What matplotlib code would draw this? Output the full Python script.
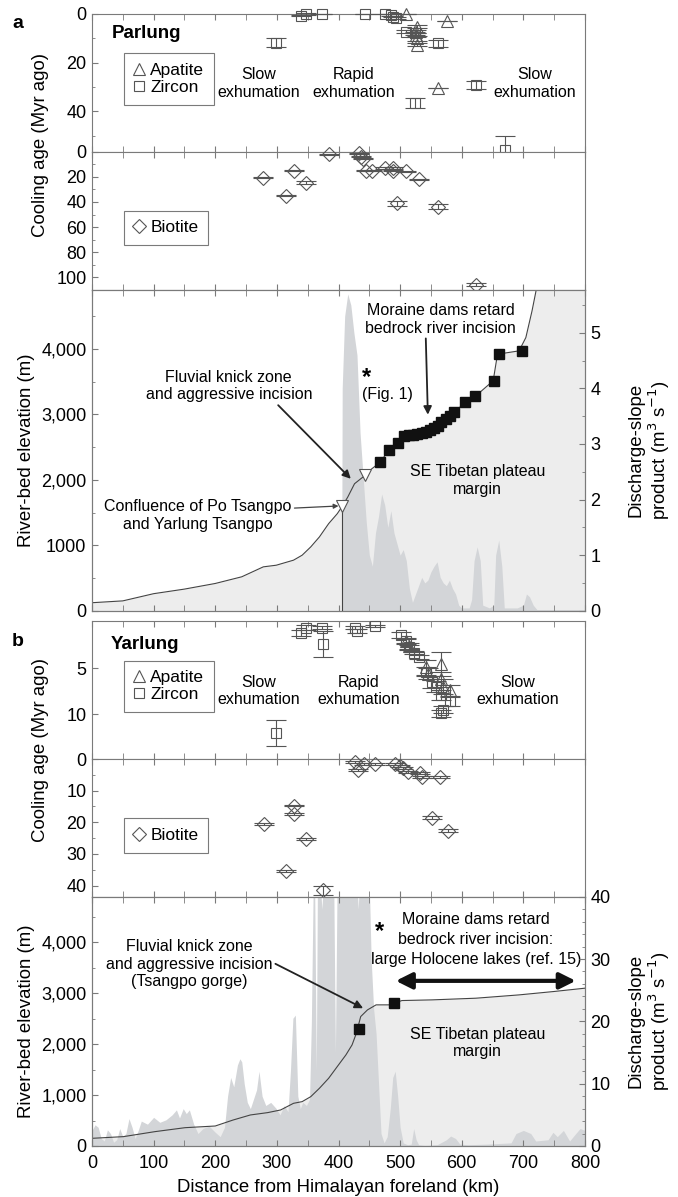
import matplotlib
matplotlib.use("Agg")
import matplotlib.pyplot as plt
from matplotlib.lines import Line2D
from matplotlib.ticker import MultipleLocator, FixedLocator

plt.rcParams['font.family'] = ['Liberation Sans Narrow', 'Liberation Sans', 'DejaVu Sans']
plt.rcParams['mathtext.fontset'] = 'custom'
plt.rcParams['mathtext.rm'] = 'Liberation Sans Narrow'

# ---------------- Parlung (a) ----------------
ap_a_km = [510, 576, 528, 526, 526, 528, 527, 561]
ap_a_age = [0.0, 2.7, 5.2, 7.3, 8.6, 10.0, 12.7, 30.5]
ap_a_err = [0.0, 0.0, 0.5, 0.6, 0.8, 0.9, 0.6, 0.0]

zr_a_km = [299, 339, 348, 374, 443, 475, 486, 489, 493, 510, 524, 561, 524, 623, 670]
zr_a_age = [11.8, 0.7, 0.0, 0.0, 0.0, 0.0, 0.5, 1.1, 1.8, 7.3, 7.9, 12.0, 36.4, 29.0, 55.6]
zr_a_err = [1.8, 0.3, 0.3, 0.2, 0.2, 0.2, 0.3, 0.3, 0.4, 0.7, 0.6, 1.5, 2.0, 1.7, 5.5]

bt_a_km = [278, 315, 327, 347, 384, 434, 437, 440, 444, 455, 475, 488, 489, 510, 530, 495, 561, 623]
bt_a_age = [20.8, 35.0, 15.0, 24.7, 2.0, 1.3, 3.9, 5.7, 15.0, 15.0, 13.0, 13.0, 15.0, 15.6, 22.0, 41.0, 43.6, 106.0]
bt_a_err = [0.3, 0.3, 0.3, 1.0, 0.3, 0.3, 0.5, 0.5, 0.3, 0.3, 0.5, 0.5, 0.5, 0.5, 0.3, 1.8, 2.0, 1.2]

elev_a_km = [0, 50, 100, 150, 200, 243, 278, 299, 327, 341, 355, 369, 384, 398, 406, 415, 426, 436,
             443, 454, 468, 482, 496, 510, 525, 542, 559, 574, 588, 605, 623, 651, 658, 693, 704,
             714, 721, 730, 800]
elev_a_m = [122, 150, 260, 330, 416, 518, 670, 695, 772, 848, 975, 1127, 1330, 1482, 1594, 1736, 1940,
            2015, 2066, 2168, 2270, 2462, 2558, 2675, 2700, 2750, 2827, 2929, 3030, 3183, 3284, 3513,
            3919, 3970, 4173, 4579, 4909, 5400, 7000]

sq_a_km = [468, 482, 496, 507, 514, 521, 528, 535, 542, 549, 555, 561, 567, 574, 581, 588, 605, 621,
           653, 660, 698]
sq_a_m = [2269, 2462, 2558, 2675, 2685, 2690, 2700, 2716, 2736, 2761, 2792, 2827, 2878, 2929, 2980,
          3041, 3183, 3284, 3503, 3919, 3970]

tri_a_km = [406, 443]
tri_a_m = [1594, 2066]

dis_a_km = [405, 406, 410, 415, 420, 425, 430, 435, 440, 445, 450, 455, 460, 465, 470, 475, 480, 485,
            490, 495, 500, 505, 510, 515, 520, 525, 530, 535, 540, 545, 550, 555, 560, 565, 570, 575,
            580, 585, 590, 595, 600, 612, 616, 620, 625, 630, 634, 645, 652, 655, 660, 665, 669, 690,
            700, 705, 710, 716, 722, 800]
dis_a = [0, 4.0, 5.3, 5.7, 5.5, 5.0, 4.6, 3.2, 2.4, 1.6, 1.0, 0.8, 1.4, 1.7, 2.1, 1.9, 1.5, 1.8, 1.4,
         1.2, 1.0, 1.1, 0.9, 0.4, 0.15, 0.3, 0.45, 0.6, 0.5, 0.55, 0.7, 0.8, 0.88, 0.6, 0.5, 0.45,
         0.55, 0.4, 0.3, 0.1, 0.05, 0.05, 0.2, 0.9, 1.15, 0.9, 0.1, 0.05, 0.1, 1.0, 1.27, 0.8, 0.05,
         0.05, 0.1, 0.3, 0.25, 0.1, 0.02, 0.02]

# ---------------- Yarlung (b) ----------------
ap_b_km = [510, 514, 542, 545, 567, 566, 570, 581]
ap_b_age = [2.0, 2.6, 4.9, 5.6, 4.5, 6.2, 7.0, 7.4]
ap_b_err = [0.3, 0.3, 0.8, 0.6, 1.3, 0.8, 0.8, 0.6]

zr_b_km = [339, 348, 374, 375, 427, 430, 460, 502, 510, 514, 522, 531, 542, 552, 559, 567, 570, 567,
           581, 298]
zr_b_age = [1.2, 0.6, 0.6, 2.4, 0.6, 1.0, 0.4, 1.4, 2.1, 2.75, 3.3, 3.8, 5.4, 6.5, 7.0, 7.9, 9.5, 9.9,
            8.6, 12.0]
zr_b_err = [0.3, 0.3, 0.2, 1.4, 0.2, 0.2, 0.1, 0.3, 0.3, 0.3, 0.2, 0.2, 0.5, 0.6, 0.6, 0.5, 0.4, 0.4,
            0.5, 1.4]

bt_b_km = [279, 327, 327, 347, 315, 427, 431, 442, 460, 491, 500, 504, 512, 533, 535, 565, 552, 578, 375]
bt_b_age = [20.6, 14.7, 17.3, 25.3, 35.4, 1.05, 3.5, 1.6, 1.6, 1.6, 2.2, 2.9, 4.0, 4.5, 5.6, 5.8, 18.5,
            22.6, 41.5]
bt_b_err = [0.3, 0.3, 0.3, 0.4, 0.4, 0.3, 0.3, 0.3, 0.2, 0.3, 0.3, 0.3, 0.3, 0.3, 0.3, 0.3, 0.6, 0.6, 1.5]

elev_b_km = [0, 51, 102, 151, 200, 229, 257, 285, 306, 327, 341, 355, 369, 384, 398, 412, 422, 429,
             436, 447, 461, 482, 503, 552, 623, 693, 749, 800]
elev_b_m = [151, 184, 282, 360, 393, 511, 610, 656, 708, 839, 872, 970, 1134, 1331, 1561, 1790, 1987,
            2216, 2544, 2675, 2774, 2774, 2859, 2872, 2905, 2970, 3036, 3102]

sq_b_km = [433, 490]
sq_b_m = [2295, 2820]

dis_b_km = [0, 5, 10, 15, 20, 25, 30, 35, 40, 45, 50, 55, 60, 65, 70, 75, 80, 90, 100, 110, 120, 130,
            137, 142, 148, 153, 158, 165, 172, 180, 190, 200, 208, 215, 220, 225, 230, 236, 240, 243,
            247, 252, 257, 262, 267, 271, 276, 282, 290, 299, 305, 312, 318, 322, 326, 330, 334, 338,
            342, 348, 353, 356, 359, 361, 364, 366, 369, 373, 377, 381, 385, 389, 392, 395, 398, 402,
            407, 412, 418, 424, 429, 432, 435, 438, 442, 446, 450, 453, 457, 461, 465, 469, 474, 479,
            484, 488, 492, 496, 500, 505, 512, 518, 522, 526, 530, 540, 560, 575, 582, 590, 597, 610,
            640, 680, 688, 700, 712, 720, 740, 748, 755, 765, 775, 785, 792, 800]
dis_b = [2.5, 3.4, 3.0, 1.2, 0.8, 2.6, 2.0, 0.6, 1.0, 2.8, 1.5, 2.0, 4.4, 3.0, 1.2, 2.5, 4.0, 3.5, 4.6,
         3.8, 4.2, 5.0, 5.8, 4.5, 6.0, 5.2, 5.8, 3.5, 2.0, 2.8, 3.2, 2.2, 1.5, 3.0, 8.0, 11.0, 9.5,
         13.0, 14.0, 13.5, 10.0, 7.0, 6.0, 7.5, 9.0, 12.0, 8.0, 6.5, 7.0, 6.0, 5.0, 6.5, 5.5, 12.0,
         20.5, 21.0, 8.0, 6.0, 7.0, 6.5, 7.5, 20, 42, 45, 12, 45, 45, 38, 45, 45, 40, 45, 45, 15, 45,
         45, 45, 45, 45, 45, 45, 38, 45, 45, 45, 45, 42, 30, 22, 18, 10, 2, 0.5, 1.5, 6, 11, 12, 8, 3,
         0.5, 0.2, 0.3, 2.8, 1.0, 0.2, 0.1, 0.2, 1.0, 1.6, 1.2, 0.3, 0.2, 0.3, 0.5, 2.0, 2.5, 2.0,
         0.8, 1.0, 2.2, 1.5, 2.5, 0.8, 2.0, 2.8, 2.5]

elev_ticks = [0, 1000, 2000, 3000, 4000]
elev_labels_a = ['0', '1000', '2,000', '3,000', '4,000']
elev_labels_b = ['0', '1,000', '2,000', '3,000', '4,000']

moraine_b_lines = ['Moraine dams retard', 'bedrock river incision:', 'large Holocene lakes (ref. 15)']

EDGE = '#7a7a7a'
MK = '#555555'
LINE = '#444444'
LIGHT = '#ededed'
MID = '#d3d5d8'
TFS = 12      # tick labels
AFS = 11.5    # annotations
LFS = 12.5    # legends
XFS = 13.4    # axis labels

W, H = 678, 1197
fig = plt.figure(figsize=(W / 100, H / 100), dpi=100)
L, R = 92 / W, 585 / W


def add_ax(top, bottom):
    return fig.add_axes([L, 1 - bottom / H, R - L, (bottom - top) / H])


def style(ax, labels=False):
    ax.set_xlim(0, 800)
    ax.xaxis.set_major_locator(MultipleLocator(100))
    ax.xaxis.set_minor_locator(MultipleLocator(50))
    ax.tick_params(axis='x', which='both', direction='in', top=True, bottom=True, length=4,
                   color=EDGE, labelbottom=labels, labelsize=TFS + 1, pad=6.5)
    ax.tick_params(axis='y', which='both', direction='in', length=4, color=EDGE,
                   labelsize=TFS + 1, pad=4)
    ax.tick_params(axis='y', which='minor', length=2.5)
    for s in ax.spines.values():
        s.set_color(EDGE)
        s.set_linewidth(0.8)


def ages(ax, x, y, e, marker, ms):
    c = ax.errorbar(x, y, yerr=e, fmt=marker, ms=ms, mfc='none', mec=MK, mew=0.8, ecolor=MK,
                    elinewidth=0.8, capsize=7.5, capthick=0.8, zorder=3)
    for art in c.get_children():
        art.set_clip_on(False)


def legend(ax, items, x0, y0):
    handles = [Line2D([], [], ls='none', marker=m, ms=ms, mfc='none', mec=MK, mew=0.8, label=lab)
               for m, ms, lab in items]
    lg = ax.legend(handles=handles, loc='upper left', bbox_to_anchor=(x0, y0), frameon=True,
                   fancybox=False, edgecolor=EDGE, framealpha=1, handlelength=0.7,
                   handletextpad=0.3, borderpad=0.55, labelspacing=0.1, fontsize=LFS,
                   borderaxespad=0)
    lg.get_frame().set_linewidth(0.8)


def exhumation(ax, y, xs):
    ax.text(xs[0], y, 'Slow\nexhumation', ha='center', va='center', fontsize=AFS)
    ax.text(xs[1], y, 'Rapid\nexhumation', ha='center', va='center', fontsize=AFS)
    ax.text(xs[2], y, 'Slow\nexhumation', ha='center', va='center', fontsize=AFS)


def elevation(ax, ekm, em, dkm, dv, dmax, sqkm, sqm, labels):
    axr = ax.twinx()
    ax.fill_between(ekm, 0, em, color=LIGHT, lw=0, zorder=0.5)
    ax.fill_between(dkm, 0, dv, color=MID, lw=0, zorder=0.8, transform=axr.transData)
    ax.plot(ekm, em, color=LINE, lw=0.8, zorder=3)
    ax.plot(sqkm, sqm, 's', ms=7, color='#111111', zorder=4)
    ax.set_ylim(0, 4900)
    ax.yaxis.set_major_locator(FixedLocator(elev_ticks))
    ax.set_yticklabels(labels)
    ax.yaxis.set_minor_locator(MultipleLocator(500))
    axr.set_ylim(0, dmax)
    style(axr)
    return axr


# ---------- panel a ----------
a1 = add_ax(14, 151.7)
a2 = add_ax(151.7, 290)
a3 = add_ax(290, 610.7)

style(a1)
a1.set_ylim(56.5, 0)
a1.yaxis.set_major_locator(FixedLocator([0, 20, 40]))
a1.yaxis.set_minor_locator(MultipleLocator(10))
ages(a1, zr_a_km, zr_a_age, zr_a_err, 's', 6.5)
ages(a1, ap_a_km, ap_a_age, ap_a_err, '^', 8)
legend(a1, [('^', 8, 'Apatite'), ('s', 6.5, 'Zircon')], 0.064, 0.714)
exhumation(a1, 28.5, [270, 424, 719])
a1.text(32, 8, 'Parlung', fontsize=13.5, fontweight='bold', va='center')

style(a2)
a2.set_ylim(110, 0)
a2.yaxis.set_major_locator(MultipleLocator(20))
a2.yaxis.set_minor_locator(MultipleLocator(10))
ages(a2, bt_a_km, bt_a_age, bt_a_err, 'D', 7.5)
legend(a2, [('D', 7.5, 'Biotite')], 0.064, 0.573)

style(a3)
a3r = elevation(a3, elev_a_km, elev_a_m, dis_a_km, dis_a, 5.77, sq_a_km, sq_a_m, elev_labels_a)
a3r.yaxis.set_major_locator(MultipleLocator(1))
a3r.yaxis.set_minor_locator(MultipleLocator(0.5))
a3.vlines(tri_a_km[0], 0, tri_a_m[0], color=LINE, lw=0.8, zorder=3)
a3.plot(tri_a_km, tri_a_m, 'v', ms=8, mfc='white', mec=MK, mew=0.8, zorder=4)
arrow = dict(arrowstyle='-|>', color='#222222', lw=1.3, mutation_scale=12, shrinkA=0, shrinkB=0)
a3.annotate('Fluvial knick zone\nand aggressive incision', xy=(420, 2015), xytext=(222, 3430),
            ha='center', va='center', fontsize=AFS,
            arrowprops=dict(arrow, relpos=(0.78, 0.0)))
a3.annotate('Moraine dams retard\nbedrock river incision', xy=(545, 2995), xytext=(566, 4450),
            ha='center', va='center', fontsize=AFS,
            arrowprops=dict(arrow, relpos=(0.4, 0.0)))
a3.annotate('Confluence of Po Tsangpo\nand Yarlung Tsangpo', xy=(400, 1600), xytext=(172, 1457),
            ha='center', va='center', fontsize=AFS,
            arrowprops=dict(arrowstyle='-|>', color='#444444', lw=0.9, mutation_scale=7,
                            shrinkA=0, shrinkB=0, relpos=(1.0, 0.72)))
a3.text(445, 3563, '*', fontsize=17, fontweight='bold', ha='center', va='center')
a3.text(480, 3310, '(Fig. 1)', fontsize=AFS, ha='center', va='center')
a3.text(626, 1990, 'SE Tibetan plateau\nmargin', fontsize=AFS, ha='center', va='center')

# ---------- panel b ----------
b1 = add_ax(620.7, 759)
b2 = add_ax(759, 896.7)
b3 = add_ax(896.7, 1146)

style(b1)
b1.set_ylim(14.85, -0.15)
b1.yaxis.set_major_locator(FixedLocator([5, 10]))
ages(b1, zr_b_km, zr_b_age, zr_b_err, 's', 6.5)
ages(b1, ap_b_km, ap_b_age, ap_b_err, '^', 8)
legend(b1, [('^', 8, 'Apatite'), ('s', 6.5, 'Zircon')], 0.064, 0.711)
exhumation(b1, 7.5, [270, 433, 690])
b1.text(30, 2.4, 'Yarlung', fontsize=13.5, fontweight='bold', va='center')

style(b2)
b2.set_ylim(43.5, 0)
b2.yaxis.set_major_locator(MultipleLocator(10))
b2.yaxis.set_minor_locator(MultipleLocator(5))
ages(b2, bt_b_km, bt_b_age, bt_b_err, 'D', 7.5)
legend(b2, [('D', 7.5, 'Biotite')], 0.064, 0.569)

style(b3, labels=True)
b3r = elevation(b3, elev_b_km, elev_b_m, dis_b_km, dis_b, 40, sq_b_km, sq_b_m, elev_labels_b)
b3r.yaxis.set_major_locator(MultipleLocator(10))
b3r.yaxis.set_minor_locator(MultipleLocator(2))
b3.annotate('Fluvial knick zone\nand aggressive incision\n(Tsangpo gorge)', xy=(440, 2708),
            xytext=(158, 3574), ha='center', va='center', fontsize=AFS,
            arrowprops=dict(arrow, relpos=(0.95, 0.62)))
b3.annotate('', xy=(493, 3246), xytext=(785, 3246),
            arrowprops=dict(arrowstyle='<|-|>', color='#111111', lw=3, mutation_scale=24,
                            shrinkA=0, shrinkB=0))
for txt, ym in zip(moraine_b_lines, [4446, 4052, 3672]):
    b3.text(623, ym, txt, fontsize=AFS, ha='center', va='center')
b3.text(466, 4216, '*', fontsize=17, fontweight='bold', ha='center', va='center')
b3.text(626, 2020, 'SE Tibetan plateau\nmargin', fontsize=AFS, ha='center', va='center')

# ---------- figure labels ----------
fig.text(18 / W, 1 - 23 / H, 'a', fontsize=14, fontweight='bold', ha='center', va='center')
fig.text(18 / W, 1 - 642 / H, 'b', fontsize=14, fontweight='bold', ha='center', va='center')
for yc in [145, 750]:
    fig.text(41 / W, 1 - yc / H, 'Cooling age (Myr ago)', rotation=90, fontsize=XFS,
             ha='center', va='center')
for yc in [450, 1021]:
    fig.text(27 / W, 1 - yc / H, 'River-bed elevation (m)', rotation=90, fontsize=XFS,
             ha='center', va='center')
    fig.text(650 / W, 1 - yc / H, 'Discharge-slope\nproduct (m$^3$ s$^{-1}$)', rotation=90,
             fontsize=XFS, ha='center', va='center', linespacing=1.1)
fig.text((L + R) / 2, 1 - 1188 / H, 'Distance from Himalayan foreland (km)', fontsize=XFS,
         ha='center', va='center')

fig.savefig('out.png', dpi=100)
